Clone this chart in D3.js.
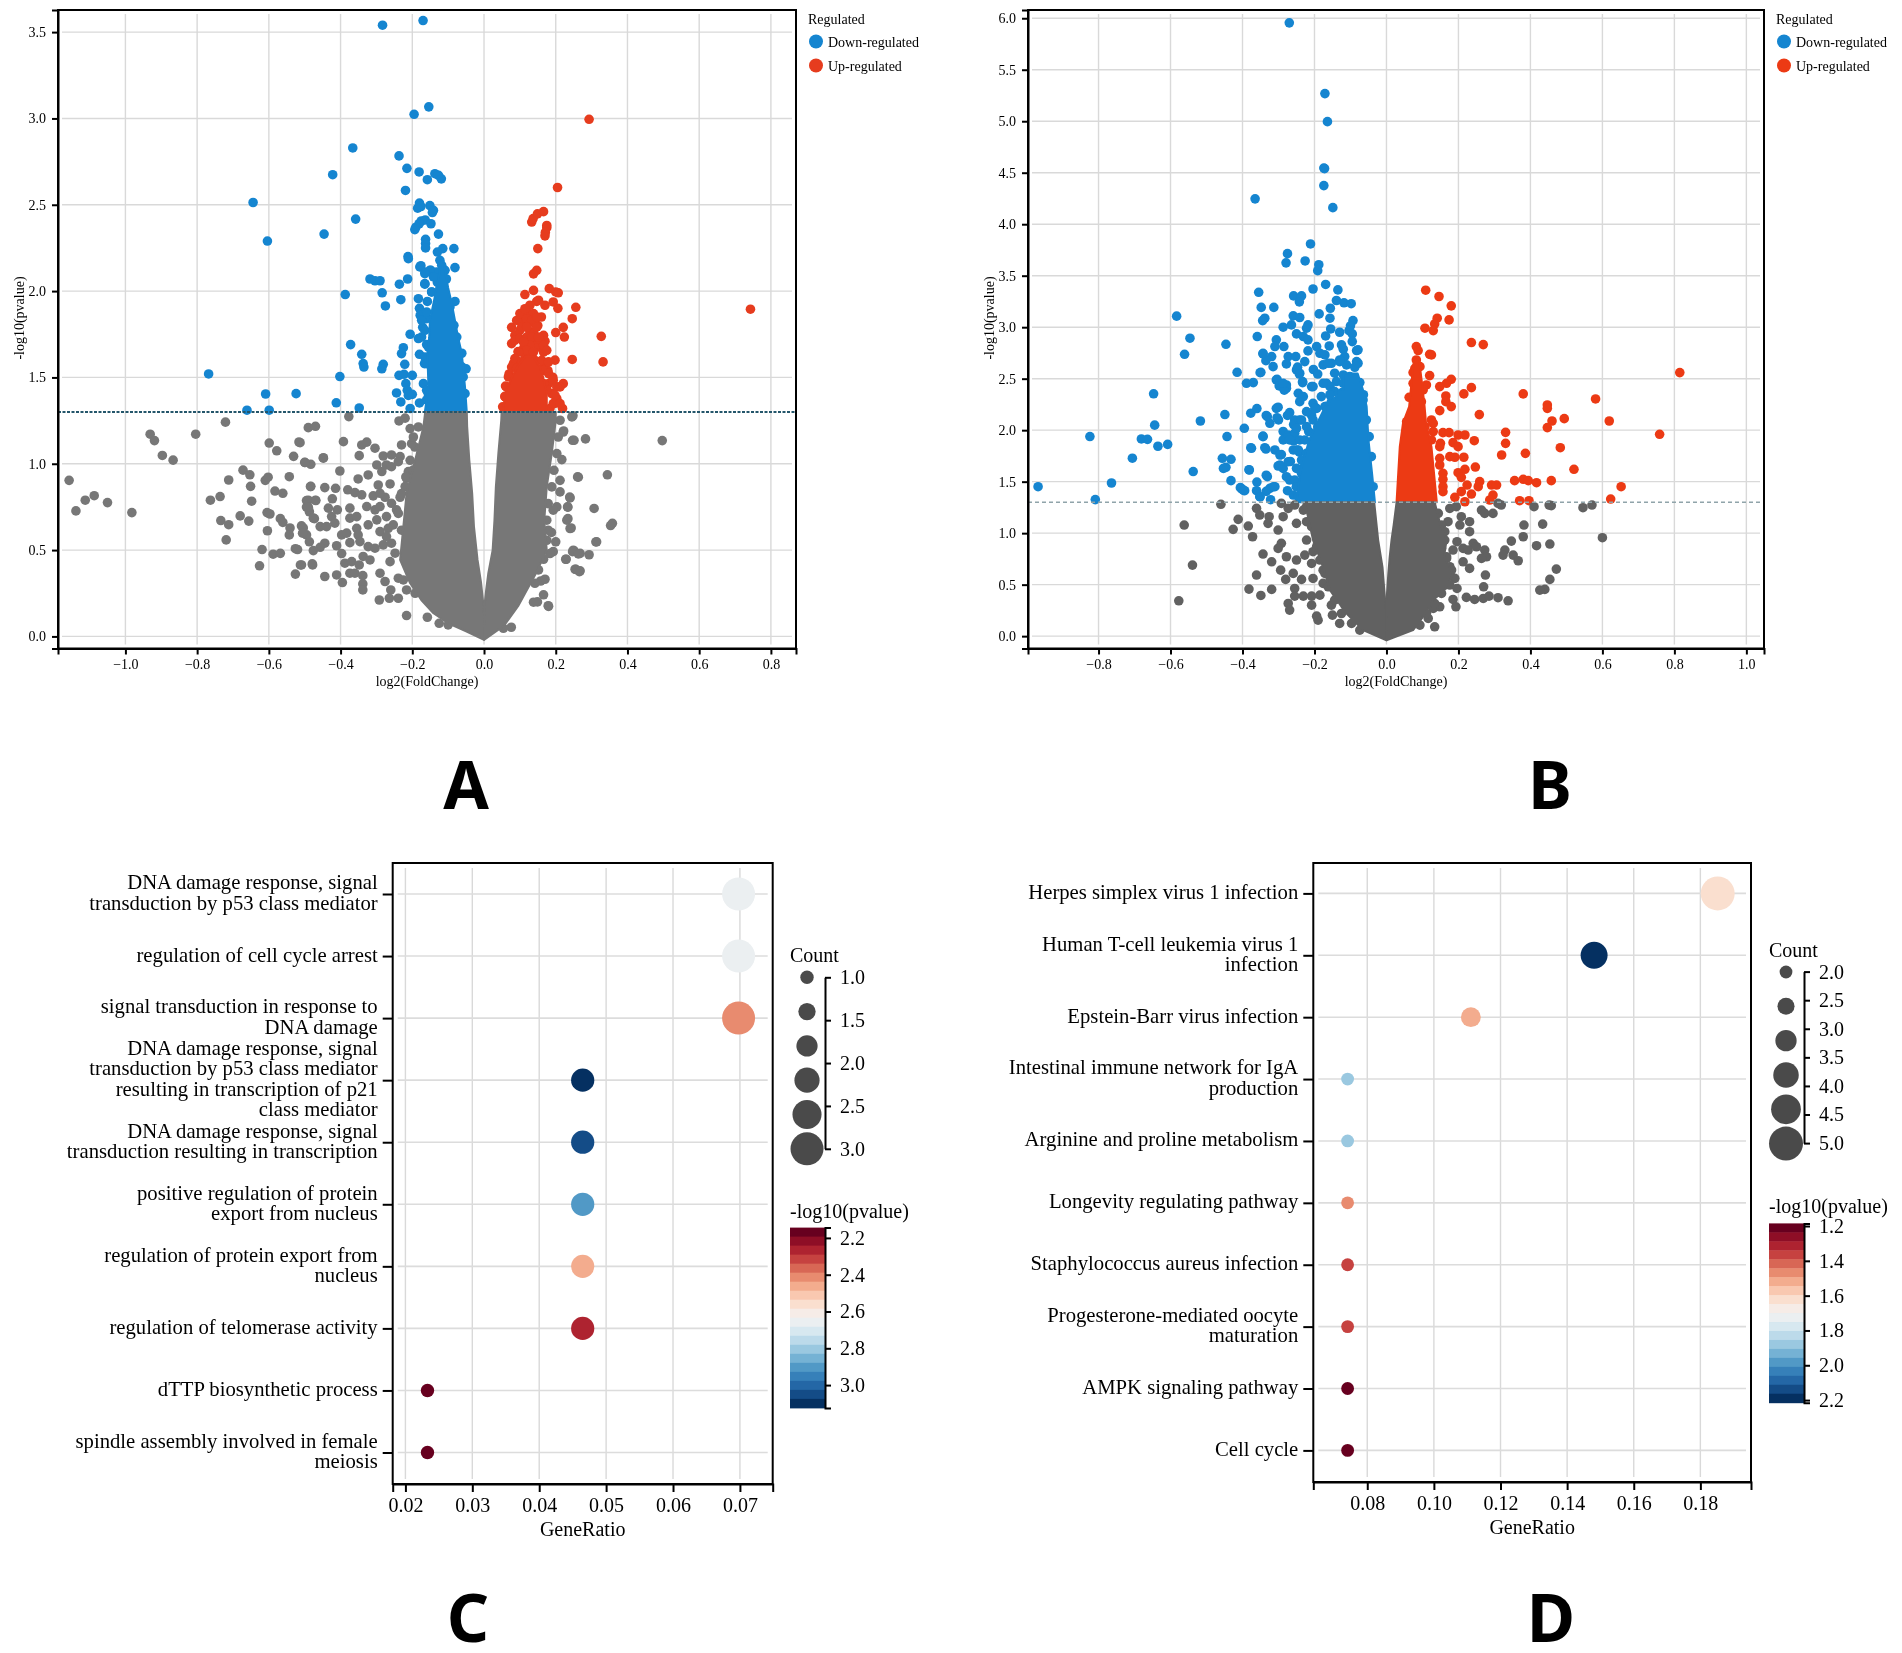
<!DOCTYPE html>
<html>
<head>
<meta charset="utf-8">
<script src="https://cdn.jsdelivr.net/npm/d3@7"></script>
<style>
  html, body { margin: 0; background: #fff; }
  svg { display: block; font-family: "Liberation Serif", serif; filter: blur(0.5px); }
</style>
</head>
<body>
<div id="chart"></div>
<script>
// all values: [log2FC, -log10p]
const aBluePts = [[-.283,3.54],[-.17,3.567],[-.154,3.067],[-.195,3.024],[-.366,2.829],[-.237,2.783],[-.215,2.711],[-.422,2.674],[-.181,2.69],[-.158,2.645],[-.137,2.68],[-.127,2.67],[-.119,2.65],[-.219,2.583],[-.644,2.513],[-.604,2.29],[-.446,2.33],[-.358,2.417],[-.18,2.51],[-.176,2.49],[-.185,2.48],[-.151,2.495],[-.141,2.468],[-.144,2.455],[-.175,2.406],[-.164,2.412],[-.181,2.39],[-.148,2.39],[-.19,2.37],[-.193,2.356],[-.127,2.33],[-.163,2.3],[-.163,2.275],[-.163,2.25],[-.115,2.246],[-.13,2.226],[-.084,2.246],[-.212,2.2],[-.211,2.188],[-.123,2.178],[-.179,2.14],[-.081,2.136],[-.176,2.147],[-.165,2.11],[-.148,2.12],[-.11,2.12],[-.105,2.07],[-.318,2.07],[-.304,2.06],[-.29,2.06],[-.213,2.07],[-.236,2.04],[-.165,2.04],[-.13,2.05],[-.387,1.98],[-.284,1.99],[-.232,1.95],[-.275,1.914],[-.183,1.956],[-.158,1.94],[-.081,1.94],[-.146,1.995],[-.18,1.9],[-.178,1.86],[-.16,1.84],[-.171,1.79],[-.206,1.75],[-.183,1.725],[-.174,1.734],[-.372,1.69],[-.341,1.634],[-.337,1.58],[-.335,1.56],[-.281,1.576],[-.285,1.55],[-.225,1.672],[-.23,1.638],[-.18,1.634],[-.221,1.576],[-.237,1.512],[-.223,1.518],[-.2,1.512],[-.768,1.52],[-.402,1.505],[-.524,1.406],[-.609,1.404],[-.412,1.353],[-.348,1.323],[-.661,1.31],[-.599,1.31],[-.218,1.464],[-.244,1.41],[-.214,1.425],[-.2,1.402],[-.211,1.396],[-.232,1.358],[-.18,1.352],[-.206,1.32],[-.169,1.464],[-.155,1.4],[-.16,1.37],[-.166,1.58],[-.16,1.69],[-.05,1.55],[-.062,1.64],
  [-.16,1.879],[-.174,1.831],[-.165,1.773],[-.155,1.676],[-.165,1.618],[-.16,1.58],[-.16,1.425],[-.155,1.368],[-.072,1.638],[-.062,1.561],[-.058,1.503],[-.053,1.406],[-.076,1.734],[-.084,1.802],[-.095,1.908],[-.109,2.12],[-.118,2.149],[-.132,2.111],[-.151,2.12],[-.165,2.101],[-.141,2.082],[-.109,2.072],[-.146,1.995],[-.123,2.014],[-.165,2.043]];
const aRedPts = [[.133,2.4],[.175,2.367],[.17,2.32],[.15,2.246],[.147,2.12],[.138,2.1],[.114,1.98],[.138,2.004],[.182,2.014],[.2,1.995],[.207,1.99],[.147,1.94],[.128,1.918],[.17,1.918],[.193,1.937],[.206,1.9],[.256,1.906],[.246,1.84],[.119,1.88],[.105,1.83],[.138,1.87],[.077,1.79],[.221,1.79],[.2,1.76],[.224,1.734],[.327,1.738],[.086,1.744],[.128,1.754],[.138,1.763],[.166,1.744],[.17,1.71],[.1,1.773],[.077,1.696],[.11,1.667],[.138,1.705],[.152,1.676],[.114,1.628],[.166,1.647],[.198,1.6],[.246,1.604],[.332,1.59],[.082,1.58],[.205,2.6],[.293,2.995],[.743,1.895],[.137,2.42],[.149,2.447],[.166,2.46],[.175,2.38],[.171,2.34],[.221,1.464],[.212,1.445],[.18,1.464],[.189,1.406],[.203,1.377],[.219,1.32],[.184,1.32],[.06,1.45],[.09,1.6],[.12,1.6],[.145,1.59],[.127,1.65],[.095,1.65],[.166,1.56],[.178,1.54],[.07,1.52],[.192,1.5],[.058,1.39],[.052,1.33],[.198,1.35],[.175,1.43],[.155,1.72],[.12,1.79],[.135,1.82],[.15,1.8],[.16,1.85],[.115,1.71],
  [.091,1.83],[.1,1.87],[.114,1.898],[.152,1.947],[.119,1.84],[.133,1.83],[.147,1.85],[.105,1.792],[.119,1.792],[.147,1.792],[.086,1.715],[.1,1.725],[.119,1.734],[.133,1.734],[.152,1.734],[.128,1.686],[.11,1.705],[.166,1.686],[.175,1.657],[.119,1.657],[.138,1.647],[.096,1.647],[.086,1.609],[.105,1.59],[.124,1.59],[.142,1.599],[.161,1.599],[.18,1.59],[.077,1.56],[.091,1.551],[.166,1.541],[.18,1.522],[.068,1.503],[.193,1.483],[.203,1.445],[.063,1.445],[.059,1.387],[.198,1.396],[.193,1.348],[.212,1.348],[.166,1.464]];
const aGreyPts = [[-1.157,.904],[-1.138,.727],[-1.112,.789],[-1.087,.815],[-1.05,.775],[-.982,.717],[-.931,1.171],[-.919,1.134],[-.897,1.048],[-.867,1.021],[-.804,1.171],[-.721,1.241],[-.763,.789],[-.736,.81],[-.712,.906],[-.672,.963],[-.653,.936],[-.651,.869],[-.734,.671],[-.712,.647],[-.719,.559],[-.68,.698],[-.656,.668],[-.648,.783],[-.61,.904],[-.602,.922],[-.599,1.12],[-.578,1.075],[-.605,.717],[-.597,.709],[-.583,.842],[-.561,.829],[-.604,.612],[-.568,.682],[-.561,.66],[-.619,.503],[-.626,.409],[-.588,.476],[-.568,.481],[-.543,.925],[-.516,1.126],[-.531,1.043],[-.5,1.008],[-.483,.997],[-.49,1.209],[-.47,1.217],[-.448,1.035],[-.483,.869],[-.49,.789],[-.47,.789],[-.495,.749],[-.473,.682],[-.487,.722],[-.541,.628],[-.543,.588],[-.526,.508],[-.52,.503],[-.504,.628],[-.495,.588],[-.487,.548],[-.512,.414],[-.526,.361],[-.478,.414],
  [-.377,1.273],[-.392,1.128],[-.513,1.122],[-.341,1.109],[-.327,1.125],[-.304,1.09],[-.348,1.047],[-.23,1.109],[-.237,1.248],[-.22,1.264],[-.281,1.045],[-.258,1.051],[-.234,1.041],[-.239,1.012],[-.448,1.032],[-.499,1.007],[-.402,.958],[-.299,.993],[-.285,.955],[-.272,.993],[-.258,.983],[-.323,.935],[-.351,.912],[-.262,.883],[-.295,.877],[-.211,.955],[-.216,.916],[-.197,.964],[-.484,.868],[-.444,.862],[-.414,.858],[-.38,.849],[-.36,.833],[-.341,.82],[-.309,.814],[-.276,.806],[-.29,.829],[-.22,.868],[-.234,.806],[-.495,.787],[-.469,.787],[-.423,.797],[-.49,.748],[-.434,.743],[-.409,.733],[-.374,.743],[-.425,.694],[-.327,.752],[-.304,.733],[-.29,.752],[-.258,.771],[-.476,.685],[-.374,.685],[-.355,.694],[-.416,.656],[-.323,.646],[-.299,.675],[-.272,.694],[-.244,.733],[-.253,.646],[-.509,.64],[-.506,.598],[-.457,.636],[-.439,.636],[-.355,.626],[-.397,.588],[-.383,.598],[-.351,.588],[-.29,.607],[-.267,.626],[-.444,.54],[-.457,.516],[-.476,.497],[-.411,.525],[-.397,.48],[-.374,.543],[-.346,.549],[-.323,.52],[-.337,.463],[-.318,.443],[-.304,.511],[-.281,.53],[-.258,.54],[-.248,.482],[-.272,.578],[-.509,.414],[-.479,.42],[-.444,.347],[-.411,.356],[-.395,.312],[-.388,.424],[-.369,.433],[-.348,.414],[-.374,.366],[-.36,.366],[-.338,.352],[-.338,.304],[-.338,.269],[-.29,.366],[-.276,.318],[-.262,.433],[-.239,.337],[-.225,.327],[-.26,.269],[-.292,.211],[-.264,.221],[-.239,.221],[-.216,.121],[-.158,.111],[-.125,.076],[-.1,.067],[-.216,.269],[-.192,.25],
  [-.183,1.213],[-.193,1.097],[-.206,1.02],[-.218,.924],[-.23,.827],[-.239,.712],[-.23,.615],[-.202,1.117],[-.206,1.204],[-.197,1.155],
  [.248,1.278],[.497,1.134],[.283,1.144],[.251,1.136],[.222,1.19],[.217,1.024],[.344,.936],[.263,.922],[.212,.904],[.239,.807],[.234,.749],[.307,.741],[.353,.642],[.358,.655],[.234,.682],[.243,.628],[.314,.548],[.251,.495],[.268,.481],[.293,.473],[.229,.447],[.256,.388],[.268,.38],[.2,.548],[.188,.602],[.149,.388],[.158,.321],[.166,.241],[.18,.174],[.149,.2],[.076,.053],[.245,1.271],[.247,1.136],[.221,1.184],[.261,.924],[.24,.802],[.233,.75],[.231,.673],[.24,.625],[.312,.547],[.249,.499],[.212,.837],[.203,.75],[.193,.731],[.179,.615],[.054,.047],[.179,.178],[.138,.198],[.17,.331],[.142,.308],[.152,.385],[.254,.389],[.266,.375],[.228,.447],[.247,.491],[.263,.478],[.166,.447],[.193,.491],
  [.212,1.252],[.207,1.155],[.203,1.059],[.195,.962],[.189,.866],[.179,.769],[.175,.673],[.175,.557],[.184,.48]];
// solid mass where the dots fully overlap: [-log10p, outer edge, inner edge]
const aGreyLeftCore = [[1.3,-.164,-.048],[1.215,-.169,-.047],[1.022,-.192,-.041],[.829,-.216,-.033],[.636,-.225,-.028],[.443,-.234,-.018],[.308,-.206,-.008],[.211,-.175,-.003],[.134,-.141,0],[.076,-.1,0],[.03,-.05,0],[-.02,0,0]];
const aGreyRightCore = [[1.3,.2,.049],[1.25,.2,.048],[1.06,.189,.04],[.866,.175,.033],[.67,.168,.029],[.5,.175,.024],[.366,.145,.012],[.27,.12,.006],[.175,.095,.001],[.06,.055,0],[-.02,0,0]];
const aBlueCore = [[1.3,-.165,-.048],[1.445,-.155,-.053],[1.64,-.158,-.062],[1.73,-.153,-.072],[1.83,-.151,-.081],[1.93,-.141,-.09],[2.02,-.132,-.1],[2.12,-.123,-.109],[2.17,-.118,-.113]];
const aRedCore = [[1.3,.054,.175],[1.406,.058,.175],[1.5,.078,.165],[1.56,.092,.156],[1.62,.115,.138]];

const bBluePts = [[-.27,5.955],[-.171,5.268],[-.164,4.996],[-.174,4.545],[-.172,4.54],[-.174,4.375],[-.149,4.161],[-.365,4.246],[-.211,3.808],[-.275,3.714],[-.279,3.625],[-.226,3.643],[-.188,3.607],[-.191,3.549],[-.169,3.415],[-.135,3.362],[-.204,3.371],[-.355,3.339],[-.258,3.304],[-.236,3.304],[-.242,3.246],[-.348,3.192],[-.313,3.192],[-.139,3.259],[-.118,3.237],[-.098,3.228],[-.156,3.184],[-.187,3.129],[-.157,3.087],[-.259,3.11],[-.241,3.094],[-.338,3.087],[-.344,3.064],[-.093,3.064],[-.1,3.013],[-.218,3.022],[-.222,2.99],[-.287,3.0],[-.264,3.022],[-.155,2.983],[-.13,2.951],[-.104,2.967],[-.095,2.935],[-.359,2.909],[-.25,2.935],[-.231,2.909],[-.218,2.877],[-.169,2.915],[-.306,2.877],[-.095,2.86],[-.31,2.812],[-.285,2.812],[-.194,2.812],[-.159,2.818],[-.125,2.828],[-.12,2.786],[-.083,2.773],[-.079,2.78],[-.343,2.74],[-.319,2.715],[-.335,2.675],[-.315,2.617],[-.273,2.715],[-.252,2.715],[-.278,2.643],[-.218,2.77],[-.185,2.747],[-.171,2.731],[-.116,2.715],[-.13,2.666],[-.083,2.666],[-.111,2.634],[-.088,2.611],[-.227,2.666],[-.25,2.585],[-.241,2.553],[-.176,2.634],[-.153,2.65],[-.415,2.562],[-.349,2.562],[-.389,2.455],[-.37,2.462],[-.306,2.488],[-.278,2.439],[-.233,2.472],[-.208,2.423],[-.167,2.456],[-.144,2.553],[-.12,2.536],[-.139,2.472],[-.157,2.423],[-.111,2.456],[-.074,2.462],
  [-.583,3.107],[-.546,2.893],[-.561,2.737],[-.446,2.834],[-.647,2.353],[-.644,2.049],[-.824,1.938],[-.681,1.915],[-.664,1.911],[-.635,1.844],[-.608,1.862],[-.517,2.089],[-.449,2.152],[-.443,1.938],[-.395,2.018],[-.377,2.165],[-.36,2.21],[-.706,1.728],[-.537,1.598],[-.764,1.487],[-.968,1.451],[-.809,1.326],[-.456,1.727],[-.432,1.717],[-.446,1.639],[-.432,1.51],[-.406,1.442],[-.394,1.412],[-.381,1.613],[-.331,1.548],[-.361,1.412],[-.352,1.354],[-.324,1.435],[-.31,1.451],[-.322,1.325],[-.275,1.412],[-.375,1.824],[-.343,1.937],[-.335,1.817],[-.306,2.212],[-.331,2.131],[-.324,2.067],[-.3,2.099],[-.269,2.17],[-.255,2.099],[-.304,2.494],[-.298,2.43],[-.278,2.407],[-.245,2.358],[-.241,2.277],[-.233,2.462],
  [-.343,2.746],[-.351,2.558],[-.284,2.388],[-.287,2.455],[-.247,2.612],[-.242,2.545],[-.203,2.589],[-.191,2.545],[-.334,2.143],[-.301,2.223],[-.304,2.121],[-.275,2.143],[-.287,1.987],[-.258,2.054],[-.343,1.942],[-.377,1.83],[-.338,1.83],[-.382,1.616],[-.36,1.496],[-.334,1.563],[-.292,1.763],[-.258,1.897],[-.301,1.652],[-.267,1.696],[-.242,1.786],[-.216,1.987],[-.242,2.098],[-.208,2.143],[-.191,2.031],[-.233,1.629],[-.25,1.451],[-.314,1.451],[-.334,1.406],[-.351,1.353],[-.402,1.429],[-.453,1.629],[-.397,1.415],
  [-.287,1.905],[-.273,1.953],[-.255,1.97],[-.259,1.808],[-.25,1.808],[-.31,1.808],[-.296,1.759],[-.296,1.662],[-.287,1.629],[-.273,1.694],[-.278,1.548],[-.269,1.516],[-.231,2.326],[-.204,2.423],[-.176,2.455],[-.181,2.326],[-.153,2.277],[-.144,2.374],[-.12,2.455],[-.097,2.472],[-.204,2.261],[-.194,2.212],[-.171,2.229],[-.222,2.18],[-.236,2.099],[-.25,2.018],[-.222,2.034],[-.204,2.099],[-.269,1.905],[-.241,1.905],[-.227,1.905],[-.245,1.808],[-.222,1.775],[-.208,1.743],[-.236,1.71],[-.25,1.629],[-.236,1.581],[-.255,1.516],[-.25,1.451],[-.236,1.419],[-.259,1.37],[-.245,1.354],[-.065,2.293],[-.056,2.099],[-.048,1.937],[-.042,1.743],[-.037,1.451],[-.079,2.65],[-.13,2.682],[-.162,2.65],[-.102,2.52],[-.157,2.344],[-.123,2.366],[-.09,2.344],[-.064,2.344],[-.199,2.21],[-.166,2.232],[-.132,2.254],[-.106,2.254],[-.073,2.277]];
const bRedPts = [[.109,3.359],[.146,3.298],[.18,3.207],[.141,3.087],[.174,3.071],[.134,3.032],[.107,2.99],[.13,2.967],[.236,2.851],[.269,2.831],[.083,2.812],[.088,2.773],[.12,2.737],[.125,2.731],[.083,2.682],[.079,2.601],[.093,2.617],[.074,2.559],[.12,2.53],[.18,2.494],[.167,2.455],[.148,2.423],[.236,2.413],[.215,2.352],[.38,2.352],[.074,2.455],[.083,2.391],[.111,2.439],[.102,2.391],[.063,2.319],[.165,2.332],[.165,2.277],[.18,2.229],[.148,2.19],[.097,2.277],[.079,2.212],[.258,2.151],[.056,2.083],[.125,2.099],[.13,2.066],[.107,2.034],[.088,2.132],[.157,1.976],[.174,1.976],[.199,1.953],[.218,1.953],[.13,1.986],[.331,1.979],[.331,1.872],[.244,1.898],[.185,1.879],[.199,1.84],[.15,1.872],[.148,1.84],[.125,1.905],[.32,1.759],[.386,1.775],[.176,1.743],[.19,1.737],[.215,1.737],[.148,1.727],[.247,1.642],[.218,1.62],[.199,1.587],[.148,1.662],[.157,1.581],[.157,1.523],[.208,1.542],[.224,1.467],[.259,1.5],[.255,1.451],[.292,1.467],[.306,1.467],[.356,1.51],[.38,1.523],[.394,1.51],[.417,1.49],[.157,1.451],[.157,1.403],[.236,1.38],[.208,1.403],[.19,1.348],[.218,1.305],[.296,1.37],[.287,1.322],[.37,1.315],[.396,1.315],
  [.581,2.303],[.447,2.245],[.447,2.212],[.494,2.112],[.619,2.089],[.46,2.089],[.447,2.025],[.759,1.96],[.815,2.559],[.483,1.83],[.521,1.62],[.458,1.51],[.652,1.451],[.623,1.331]];
const bGreyPts = [[.176,1.24],[.194,1.257],[.264,1.224],[.273,1.192],[.296,1.192],[.319,1.273],[.31,1.289],[.41,1.257],[.452,1.273],[.458,1.267],[.546,1.247],[.571,1.273],[.171,1.111],[.208,1.16],[.231,1.111],[.204,1.079],[.231,1.014],[.382,1.079],[.434,1.088],[.38,.965],[.6,.956],[.347,.923],[.417,.878],[.454,.894],[.196,.917],[.241,.901],[.213,.852],[.227,.836],[.185,.836],[.25,.868],[.273,.836],[.278,.771],[.264,.755],[.329,.836],[.324,.787],[.352,.787],[.366,.732],[.213,.722],[.231,.658],[.472,.651],[.275,.593],[.27,.479],[.454,.551],[.44,.454],[.426,.447],[.222,.376],[.245,.356],[.269,.366],[.285,.389],[.31,.373],[.338,.343],[.196,.463],[.185,.356],[.193,.285],[.148,.285],[.13,.269],[.116,.172],[.134,.091],[.171,.577],[.162,.496],[.176,.674],[.167,.771],[.162,.933],
  [.144,1.192],[.153,1.079],[.162,1.014],[.139,.933],[.153,.852],[.167,.755],[.181,.642],[.19,.561],[.176,.496],[.153,.415],[.134,.317],[.111,.22],[.093,.107],
  [-.46,1.28],[-.562,1.079],[-.539,.69],[-.577,.343],[-.382,.457],[-.349,.395],[-.319,.454],[-.361,.593],[-.412,1.134],[-.426,1.037],[-.384,1.069],[-.372,.965],[-.361,1.241],[-.352,1.176],[-.326,1.16],[-.329,1.095],[-.343,.797],[-.319,.722],[-.294,.641],[-.28,.551],[-.259,.609],[-.236,.551],[-.204,.56],[-.255,.463],[-.255,.389],[-.231,.389],[-.208,.389],[-.185,.398],[-.273,.317],[-.269,.253],[-.208,.301],[-.19,.155],[-.194,.194],[-.153,.301],[-.15,.204],[-.13,.123],[-.292,1.289],[-.273,1.241],[-.255,1.273],[-.231,1.224],[-.287,1.16],[-.301,1.03],[-.25,1.095],[-.222,1.111],[-.292,.901],[-.301,.852],[-.278,.771],[-.25,.739],[-.222,.933],[-.227,.787],[-.204,.82],[-.208,.706],[-.176,.641],[-.176,.512],
  [-.222,1.257],[-.208,1.063],[-.194,.868],[-.185,.739],[-.171,.609],[-.162,.479],[-.144,.35],[-.125,.22],[-.097,.123],[-.074,.058]];
const bGreyLeftCore = [[1.3,-.227,-.034],[.933,-.204,-.023],[.67,-.176,-.011],[.447,-.157,-.006],[.285,-.125,-.002],[.22,-.111,0],[.058,-.065,0],[-.04,0,0]];
const bGreyRightCore = [[1.3,.134,.028],[1.08,.15,.02],[.933,.167,.014],[.77,.16,.009],[.6,.185,.005],[.44,.16,.002],[.35,.13,0],[.19,.102,0],[.058,.074,0],[-.04,0,0]];
const bBlueCore = [[1.3,-.25,-.032],[1.58,-.24,-.04],[1.905,-.215,-.05],[2.23,-.17,-.055],[2.39,-.12,-.065],[2.55,-.12,-.08]];
const bRedCore = [[1.3,.028,.14],[1.84,.037,.125],[2.07,.046,.11],[2.23,.063,.106],[2.48,.07,.098],[2.7,.077,.09]];

const aXTicks = [-1, -.8, -.6, -.4, -.2, 0, .2, .4, .6, .8];
const aYTicks = [0, .5, 1, 1.5, 2, 2.5, 3, 3.5];
const bXTicks = [-.8, -.6, -.4, -.2, 0, .2, .4, .6, .8, 1];
const bYTicks = [0, .5, 1, 1.5, 2, 2.5, 3, 3.5, 4, 4.5, 5, 5.5, 6];
const regulated = ['Down-regulated', 'Up-regulated'];

const cTerms = ['DNA damage response, signal\ntransduction by p53 class mediator', 'regulation of cell cycle arrest', 'signal transduction in response to\nDNA damage', 'DNA damage response, signal\ntransduction by p53 class mediator\nresulting in transcription of p21\nclass mediator', 'DNA damage response, signal\ntransduction resulting in transcription', 'positive regulation of protein\nexport from nucleus', 'regulation of protein export from\nnucleus', 'regulation of telomerase activity', 'dTTP biosynthetic process', 'spindle assembly involved in female\nmeiosis'];
const cRatio = [.0698, .0698, .0698, .0465, .0465, .0465, .0465, .0465, .0233, .0233];
const cCount = [3, 3, 3, 2, 2, 2, 2, 2, 1, 1];
const cPval = [2.68, 2.65, 2.41, 3.08, 3.04, 2.88, 2.47, 2.26, 2.15, 2.15];
const cCountTicks = [1, 1.5, 2, 2.5, 3];
const cLegendCounts = [1, 1.4, 1.8, 2.2, 2.6, 3];
const cXTicks = [.02, .03, .04, .05, .06, .07];
const cPvalTicks = [2.2, 2.4, 2.6, 2.8, 3];

const dTerms = ['Herpes simplex virus 1 infection', 'Human T-cell leukemia virus 1\ninfection', 'Epstein-Barr virus infection', 'Intestinal immune network for IgA\nproduction', 'Arginine and proline metabolism', 'Longevity regulating pathway', 'Staphylococcus aureus infection', 'Progesterone-mediated oocyte\nmaturation', 'AMPK signaling pathway', 'Cell cycle'];
const dRatio = [.1852, .1481, .1111, .0741, .0741, .0741, .0741, .0741, .0741, .0741];
const dCount = [5, 4, 3, 2, 2, 2, 2, 2, 2, 2];
const dPval = [1.6, 2.21, 1.525, 1.9, 1.885, 1.47, 1.38, 1.36, 1.205, 1.19];
const dCountTicks = [2, 2.5, 3, 3.5, 4, 4.5, 5];
const dLegendCounts = [2, 2.6, 3.2, 3.8, 4.4, 5];
const dXTicks = [.08, .1, .12, .14, .16, .18];
const dPvalTicks = [1.2, 1.4, 1.6, 1.8, 2, 2.2];

const svg = d3.select('#chart').append('svg').attr('width', 1902).attr('height', 1653);

const styleAxis = (g, size) => {
  g.attr('font-family', null);
  g.selectAll('text').attr('font-size', size).attr('fill', '#000');
  g.selectAll('path, line').attr('stroke', '#000').attr('stroke-width', 2);
};

const drawGrid = (g, x, y, xTicks, yTicks, inset) => {
  const [x0, x1] = x.range();
  const [y1, y0] = y.range();
  g.append('g').selectAll('line').data(xTicks).join('line')
    .attr('x1', d => x(d)).attr('x2', d => x(d))
    .attr('y1', y0 + inset).attr('y2', y1 - inset)
    .attr('stroke', '#d9d9d9').attr('stroke-width', 1.4);
  g.append('g').selectAll('line').data(yTicks).join('line')
    .attr('x1', x0 + inset).attr('x2', x1 - inset)
    .attr('y1', d => y(d)).attr('y2', d => y(d))
    .attr('stroke', '#d9d9d9').attr('stroke-width', 1.4);
};

const drawVolcano = cfg => {
  const {box, xDomain, yDomain, xTicks, yTicks, colors} = cfg;
  const x = d3.scaleLinear().domain(xDomain).range([box.left, box.right]);
  const y = d3.scaleLinear().domain(yDomain).range([box.bottom, box.top]);
  const g = svg.append('g');

  drawGrid(g, x, y, xTicks, yTicks, 4);

  const core = d3.area().y(d => y(d[0])).x0(d => x(d[1])).x1(d => x(d[2]));
  const dots = (pts, color) => g.append('g').selectAll('circle').data(pts).join('circle')
    .attr('cx', d => x(d[0])).attr('cy', d => y(d[1])).attr('r', 4.8).attr('fill', color);
  const mass = (rows, color) => g.append('path').datum(rows).attr('d', core)
    .attr('fill', color).attr('stroke', color).attr('stroke-width', 2).attr('stroke-linejoin', 'round');

  dots(cfg.blue, colors.blue);
  mass(cfg.blueCore, colors.blue);
  dots(cfg.red, colors.red);
  mass(cfg.redCore, colors.red);
  dots(cfg.grey, colors.grey);
  mass(cfg.greyLeft, colors.grey);
  mass(cfg.greyRight, colors.grey);

  g.append('line')
    .attr('x1', box.left).attr('x2', box.right).attr('y1', y(1.3)).attr('y2', y(1.3))
    .attr('stroke', colors.cut).attr('stroke-width', cfg.cutWidth).attr('stroke-dasharray', cfg.cutDash);

  g.append('rect')
    .attr('x', box.left).attr('y', box.top)
    .attr('width', box.right - box.left).attr('height', box.bottom - box.top)
    .attr('fill', 'none').attr('stroke', '#000').attr('stroke-width', 2);

  g.append('g').attr('transform', `translate(0,${box.bottom})`)
    .call(d3.axisBottom(x).tickValues(xTicks).tickFormat(d3.format('.1f')).tickSize(6).tickPadding(5))
    .call(styleAxis, 14);
  g.append('g').attr('transform', `translate(${box.left},0)`)
    .call(d3.axisLeft(y).tickValues(yTicks).tickFormat(d3.format('.1f')).tickSize(6).tickPadding(6))
    .call(styleAxis, 14);

  g.append('text').attr('x', (box.left + box.right) / 2).attr('y', box.bottom + 37)
    .attr('text-anchor', 'middle').attr('font-size', 14).text('log2(FoldChange)');
  g.append('text')
    .attr('transform', `translate(${box.left - 34},318) rotate(-90)`)
    .attr('text-anchor', 'middle').attr('font-size', 14).text('-log10(pvalue)');

  const lx = box.right + 12;
  g.append('text').attr('x', lx).attr('y', 24).attr('font-size', 14).text('Regulated');
  regulated.forEach((name, i) => {
    const ly = 41.5 + i * 24;
    g.append('circle').attr('cx', lx + 8).attr('cy', ly).attr('r', 7)
      .attr('fill', i ? colors.red : colors.blue);
    g.append('text').attr('x', lx + 20).attr('y', ly + 5.5).attr('font-size', 14).text(name);
  });
};

const drawDots = cfg => {
  const {box, terms, ratio, count, pval, rowRange, xDomain, xTicks, colorbar, sizeLegend} = cfg;
  const x = d3.scaleLinear().domain(xDomain).range([box.left, box.right]);
  const y = d3.scalePoint().domain(terms).range(rowRange);
  const yFrame = d3.scaleLinear().range([box.bottom, box.top]);
  const r = d3.scaleLinear().domain(cfg.countDomain).range(cfg.radius);
  const bands = d3.quantize(t => d3.interpolateRdBu(t), 20);
  const color = d3.scaleQuantize().domain(colorbar.domain).range(bands);
  const g = svg.append('g');

  drawGrid(g, x, yFrame, xTicks, [], 5);
  g.append('g').selectAll('line').data(terms).join('line')
    .attr('x1', box.left + 5).attr('x2', box.right - 5)
    .attr('y1', d => y(d)).attr('y2', d => y(d))
    .attr('stroke', '#dcdcdc').attr('stroke-width', 1.6);

  g.append('g').selectAll('circle').data(terms).join('circle')
    .attr('cx', (d, i) => x(ratio[i])).attr('cy', d => y(d))
    .attr('r', (d, i) => r(count[i])).attr('fill', (d, i) => color(pval[i]));

  g.append('rect')
    .attr('x', box.left).attr('y', box.top)
    .attr('width', box.right - box.left).attr('height', box.bottom - box.top)
    .attr('fill', 'none').attr('stroke', '#000').attr('stroke-width', 2);

  g.append('g').attr('transform', `translate(0,${box.bottom})`)
    .call(d3.axisBottom(x).tickValues(xTicks).tickFormat(d3.format('.2f')).tickSize(8).tickPadding(6))
    .call(styleAxis, 20);

  const yAxis = g.append('g').attr('transform', `translate(${box.left},0)`)
    .call(d3.axisLeft(y).tickSize(10).tickPadding(5).tickSizeOuter(0))
    .call(styleAxis, 20.7);
  yAxis.select('.domain').remove();
  yAxis.selectAll('.tick text').each(function (d) {
    const lines = d.split('\n');
    const t = d3.select(this).text(null).attr('dy', null);
    lines.forEach((line, i) => {
      t.append('tspan').attr('x', -15).attr('y', (i - (lines.length - 1) / 2) * 20.4 + 5).text(line);
    });
  });

  g.append('text').attr('x', (box.left + box.right) / 2).attr('y', box.bottom + 52)
    .attr('text-anchor', 'middle').attr('font-size', 20).text('GeneRatio');

  // count legend
  g.append('text').attr('x', sizeLegend.x - 17).attr('y', sizeLegend.titleY).attr('font-size', 20).text('Count');
  const legendY = d3.scalePoint().domain(sizeLegend.steps).range(sizeLegend.circles);
  g.append('g').selectAll('circle').data(sizeLegend.steps).join('circle')
    .attr('cx', sizeLegend.x).attr('cy', d => legendY(d)).attr('r', d => r(d)).attr('fill', '#4a4a4a');
  const tickY = d3.scaleLinear().domain(cfg.countDomain).range(sizeLegend.axis);
  g.append('g').attr('transform', `translate(${sizeLegend.x + 18},0)`)
    .call(d3.axisRight(tickY).tickValues(sizeLegend.ticks).tickFormat(d3.format('.1f')).tickSize(6).tickSizeOuter(0).tickPadding(9))
    .call(styleAxis, 20);

  // pvalue colour bar
  g.append('text').attr('x', colorbar.x).attr('y', colorbar.titleY).attr('font-size', 20).text('-log10(pvalue)');
  const barY = d3.scaleLinear().domain(colorbar.domain).range(colorbar.range);
  const step = (colorbar.domain[1] - colorbar.domain[0]) / bands.length;
  g.append('g').selectAll('rect').data(bands).join('rect')
    .attr('x', colorbar.x).attr('width', 35)
    .attr('y', (d, i) => barY(colorbar.domain[0] + i * step))
    .attr('height', barY(colorbar.domain[0] + step) - barY(colorbar.domain[0]) + 0.5)
    .attr('fill', d => d);
  g.append('g').attr('transform', `translate(${colorbar.x + 35},0)`)
    .call(d3.axisRight(barY).tickValues(colorbar.ticks).tickFormat(d3.format('.1f')).tickSize(6).tickPadding(9))
    .call(styleAxis, 20);
};

drawVolcano({
  box: {left: 58, right: 796, top: 10, bottom: 648.5},
  xDomain: [-1.188, .87], yDomain: [-.07, 3.628],
  xTicks: aXTicks, yTicks: aYTicks,
  blue: aBluePts, red: aRedPts, grey: aGreyPts,
  blueCore: aBlueCore, redCore: aRedCore, greyLeft: aGreyLeftCore, greyRight: aGreyRightCore,
  colors: {blue: '#1585d0', red: '#e63c1e', grey: '#777777', cut: '#24566b'},
  cutWidth: 2, cutDash: '3 1.5',
});

drawVolcano({
  box: {left: 1028, right: 1764, top: 10, bottom: 648.5},
  xDomain: [-.996, 1.049], yDomain: [-.12, 6.08],
  xTicks: bXTicks, yTicks: bYTicks,
  blue: bBluePts, red: bRedPts, grey: bGreyPts,
  blueCore: bBlueCore, redCore: bRedCore, greyLeft: bGreyLeftCore, greyRight: bGreyRightCore,
  colors: {blue: '#1585d0', red: '#ec3a14', grey: '#616161', cut: '#90a4aa'},
  cutWidth: 1.4, cutDash: '4 3',
});

drawDots({
  box: {left: 392.7, right: 772.7, top: 863, bottom: 1484},
  terms: cTerms, ratio: cRatio, count: cCount, pval: cPval,
  rowRange: [894, 1452.5],
  xDomain: [.0181, .0749], xTicks: cXTicks,
  countDomain: [1, 3], radius: [6.7, 16.5],
  sizeLegend: {x: 807, titleY: 962, steps: cLegendCounts, ticks: cCountTicks, circles: [977.3, 1148.8], axis: [977.3, 1148.8]},
  colorbar: {x: 790, titleY: 1217.5, domain: [2.144, 3.124], range: [1227.6, 1407.9], ticks: cPvalTicks},
});

drawDots({
  box: {left: 1313.3, right: 1751, top: 863, bottom: 1482},
  terms: dTerms, ratio: dRatio, count: dCount, pval: dPval,
  rowRange: [893.4, 1450.4],
  xDomain: [.0638, .1952], xTicks: dXTicks,
  countDomain: [2, 5], radius: [6.4, 17],
  sizeLegend: {x: 1786, titleY: 957, steps: dLegendCounts, ticks: dCountTicks, circles: [972, 1143.6], axis: [971.6, 1143.1]},
  colorbar: {x: 1769, titleY: 1213, domain: [1.185, 2.215], range: [1223.4, 1402.7], ticks: dPvalTicks},
});

// panel letters
const panelLetters = [['A', 466, 809], ['B', 1550, 809], ['C', 468, 1642], ['D', 1551, 1642]];
svg.append('g').selectAll('text').data(panelLetters).join('text')
  .attr('x', d => d[1]).attr('y', d => d[2])
  .attr('text-anchor', 'middle')
  .attr('font-family', '"Noto Sans", sans-serif').attr('font-weight', 700).attr('font-size', 66)
  .text(d => d[0]);
</script>
</body>
</html>
